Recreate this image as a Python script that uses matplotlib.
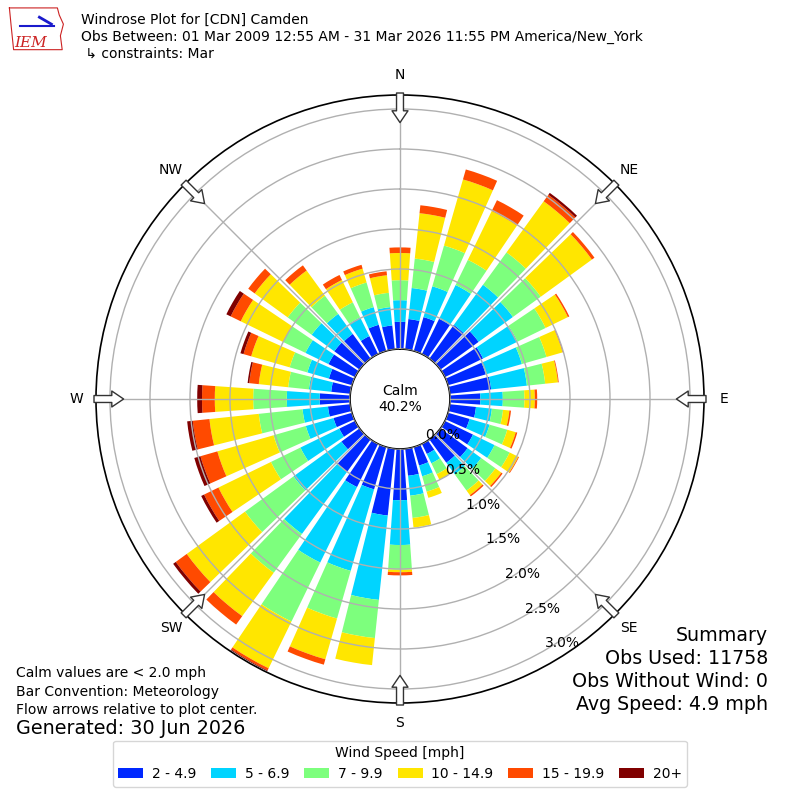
import numpy as np
import matplotlib
matplotlib.use("Agg")
import matplotlib.pyplot as plt
from matplotlib.patches import Patch

# wind directions (deg, meteorological) and frequency (%) per speed bin
directions = np.arange(0, 360, 10)
speed_labels = ['2 - 4.9', '5 - 6.9', '7 - 9.9', '10 - 14.9', '15 - 19.9', '20+']
speed_colors = ['#0028ff', '#00d4ff', '#7dff7d', '#ffe600', '#ff4a00', '#800000']

spd_2_5 = [0.34, 0.38, 0.44, 0.49, 0.52, 0.59, 0.53, 0.49, 0.52, 0.38, 0.33, 0.28,
           0.39, 0.42, 0.36, 0.14, 0.24, 0.34, 0.64, 0.84, 0.55, 0.60, 0.50, 0.28,
           0.22, 0.24, 0.28, 0.38, 0.24, 0.30, 0.37, 0.39, 0.38, 0.25, 0.34, 0.30]
spd_5_7 = [0.27, 0.39, 0.40, 0.47, 0.62, 0.53, 0.48, 0.47, 0.45, 0.28, 0.20, 0.26,
           0.30, 0.21, 0.18, 0.13, 0.14, 0.25, 0.56, 1.06, 1.06, 1.05, 0.96, 0.74,
           0.54, 0.36, 0.32, 0.41, 0.28, 0.28, 0.32, 0.35, 0.31, 0.26, 0.23, 0.23]
spd_7_10 = [0.25, 0.37, 0.53, 0.35, 0.50, 0.43, 0.39, 0.32, 0.23, 0.27, 0.14, 0.23,
            0.21, 0.22, 0.25, 0.15, 0.20, 0.28, 0.31, 0.48, 0.62, 0.82, 0.60, 0.75,
            0.41, 0.42, 0.55, 0.42, 0.26, 0.23, 0.31, 0.37, 0.28, 0.21, 0.32, 0.18]
spd_10_15 = [0.34, 0.57, 0.86, 0.68, 0.79, 0.79, 0.31, 0.21, 0.16, 0.13, 0.08, 0.11,
             0.12, 0.09, 0.07, 0.08, 0.08, 0.12, 0.03, 0.34, 0.53, 0.65, 0.67, 0.90,
             0.73, 0.73, 0.62, 0.48, 0.37, 0.50, 0.59, 0.51, 0.39, 0.31, 0.18, 0.22]
spd_15_20 = [0.07, 0.10, 0.13, 0.15, 0.10, 0.04, 0.02, 0.01, 0.01, 0.03, 0.02, 0.02,
             0.01, 0.02, 0.02, 0.00, 0.00, 0.00, 0.04, 0.00, 0.07, 0.03, 0.13, 0.17,
             0.20, 0.22, 0.21, 0.16, 0.12, 0.10, 0.14, 0.10, 0.08, 0.07, 0.05, 0.05]
spd_20p = [0.00, 0.00, 0.00, 0.00, 0.03, 0.00, 0.00, 0.00, 0.00, 0.00, 0.00, 0.00,
           0.00, 0.00, 0.00, 0.00, 0.00, 0.00, 0.00, 0.00, 0.00, 0.01, 0.00, 0.04,
           0.04, 0.08, 0.07, 0.06, 0.02, 0.04, 0.06, 0.00, 0.00, 0.00, 0.00, 0.00]
speed_bins = [spd_2_5, spd_5_7, spd_7_10, spd_10_15, spd_15_20, spd_20p]

calm_pct = 40.2
ring_values = [0.0, 0.5, 1.0, 1.5, 2.0, 2.5, 3.0]
ring_labels = ['0.0%', '0.5%', '1.0%', '1.5%', '2.0%', '2.5%', '3.0%']
compass = ['N', 'NE', 'E', 'SE', 'S', 'SW', 'W', 'NW']
compass_deg = [0, 45, 90, 135, 180, 225, 270, 315]

fig = plt.figure(figsize=(8, 8), dpi=100)
ax = fig.add_axes([0.12, 0.12125, 0.76, 0.76], projection='polar')
ax.set_theta_zero_location('N')
ax.set_theta_direction(-1)

theta = np.deg2rad(directions)
bottom = np.zeros(len(directions))
for vals, color in zip(speed_bins, speed_colors):
    vals = np.array(vals)
    ax.bar(theta, vals, width=np.deg2rad(8), bottom=bottom, color=color,
           edgecolor='none', align='center', zorder=1)
    bottom = bottom + vals

ax.set_rorigin(-0.625)
ax.set_ylim(0, 3.175)
ax.set_yticks(ring_values)
ax.set_yticklabels(ring_labels, fontsize=10)
ax.set_rlabel_position(150)
ax.set_xticks(np.deg2rad(compass_deg))
ax.set_xticklabels([])
ax.set_axisbelow(False)
ax.grid(True, color='#b0b0b0', lw=1)
ax.spines['polar'].set_linewidth(1.2)
ax.spines['inner'].set_linewidth(1.2)

# compass labels and inward flow arrows
for name, deg in zip(compass, compass_deg):
    th = np.deg2rad(deg)
    ax.text(th, 3.425, name, ha='center', va='center', fontsize=10, clip_on=False)
    ax.annotate('', xy=(th, 2.83), xytext=(th, 3.2), annotation_clip=False,
                arrowprops=dict(facecolor='white', edgecolor='#333333', width=5,
                                headwidth=11.5, headlength=8.5, shrink=0, lw=1),
                zorder=5)

ax.text(0.5, 0.5, f'Calm\n{calm_pct:.1f}%', transform=ax.transAxes,
        ha='center', va='center', fontsize=10, zorder=6)

# header
fig.text(0.101, 0.975, 'Windrose Plot for [CDN] Camden', fontsize=10, va='center')
fig.text(0.101, 0.954, 'Obs Between: 01 Mar 2009 12:55 AM - 31 Mar 2026 11:55 PM America/New_York',
         fontsize=10, va='center')
fig.text(0.101, 0.933, ' \u21b3 constraints: Mar', fontsize=10, va='center')

# logo (rough)
logo = fig.add_axes([0.008, 0.935, 0.075, 0.058])
logo.plot([0.05, 0.85, 0.88, 0.95, 0.9, 0.93, 0.12, 0.08, 0.05],
          [0.95, 0.95, 0.8, 0.6, 0.35, 0.05, 0.05, 0.55, 0.95], color='#cc2222', lw=0.8)
logo.plot([0.22, 0.8], [0.55, 0.55], color='#1a1acc', lw=1.5)
logo.plot([0.55, 0.75], [0.75, 0.6], color='#1a1acc', lw=2)
logo.text(0.4, 0.2, 'IEM', color='#cc2222', fontsize=11, style='italic',
          family='DejaVu Serif', ha='center', va='center')
logo.set_xlim(0, 1)
logo.set_ylim(0, 1)
logo.axis('off')

# summary block
fig.text(0.96, 0.206, 'Summary', fontsize=13.7, ha='right', va='center')
fig.text(0.96, 0.177, 'Obs Used: 11758', fontsize=13.7, ha='right', va='center')
fig.text(0.96, 0.148, 'Obs Without Wind: 0', fontsize=13.7, ha='right', va='center')
fig.text(0.96, 0.119, 'Avg Speed: 4.9 mph', fontsize=13.7, ha='right', va='center')

fig.text(0.02, 0.159, 'Calm values are < 2.0 mph', fontsize=10, va='center')
fig.text(0.02, 0.135, 'Bar Convention: Meteorology', fontsize=10, va='center')
fig.text(0.02, 0.113, 'Flow arrows relative to plot center.', fontsize=10, va='center')
fig.text(0.02, 0.089, 'Generated: 30 Jun 2026', fontsize=13.8, va='center')

handles = [Patch(facecolor=c, edgecolor='none') for c in speed_colors]
fig.legend(handles, speed_labels, loc='lower center', bbox_to_anchor=(0.5, 0.008),
           ncol=6, title='Wind Speed [mph]', fontsize=10, title_fontsize=10,
           handlelength=1.8, handletextpad=0.6, columnspacing=1.1)

fig.savefig('out.png', dpi=100)
